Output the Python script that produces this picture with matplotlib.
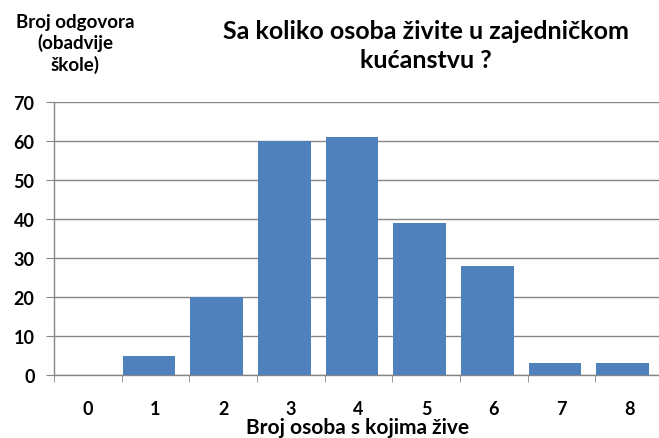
import matplotlib.pyplot as plt
import numpy as np

# broj osoba u kucanstvu i broj odgovora
categories = [0, 1, 2, 3, 4, 5, 6, 7, 8]
answers = [0, 5, 20, 60, 61, 39, 28, 3, 3]
y_ticks = [0, 10, 20, 30, 40, 50, 60, 70]

W, H = 659, 439
plt.rcParams['font.family'] = ['Lato', 'DejaVu Sans']

fig = plt.figure(figsize=(W / 100, H / 100), dpi=100)
ax = fig.add_axes([54 / W, (H - 376) / H, (663 - 54) / W, (376 - 103) / H])

grid_col = '#868686'
x = np.arange(len(categories))
ax.bar(x - 0.097, answers, width=0.777, color='#4F81BD', zorder=3)

ax.set_xlim(-0.5, len(categories) - 0.5)
ax.set_ylim(0, 70)
ax.set_yticks(y_ticks)
ax.set_yticklabels([str(v) for v in y_ticks], fontsize=13, fontweight='bold')
ax.set_xticks(x)
ax.set_xticklabels([str(c) for c in categories], fontsize=13, fontweight='bold')
ax.set_xticks(np.arange(-0.5, len(categories), 1.0), minor=True)
ax.tick_params(axis='x', which='major', length=0, pad=18)
ax.tick_params(axis='x', which='minor', length=5, color=grid_col, direction='out')
ax.tick_params(axis='y', length=6, color=grid_col, pad=8)

ax.yaxis.grid(True, color=grid_col, linewidth=1.0, zorder=0)
for s in ['top', 'right']:
    ax.spines[s].set_visible(False)
for s in ['left', 'bottom']:
    ax.spines[s].set_color(grid_col)
    ax.spines[s].set_linewidth(1.0)

fig.text(426 / W, 1 - 46 / H, 'Sa koliko osoba živite u zajedničkom\nkućanstvu ?',
         ha='center', va='center', fontsize=18, fontweight='bold', linespacing=1.32)
fig.text(75 / W, 1 - 44 / H, 'Broj odgovora\n(obadvije\nškole)',
         ha='center', va='center', fontsize=13.5, fontweight='bold', linespacing=1.22)
fig.text(358 / W, 1 - 428 / H, 'Broj osoba s kojima žive',
         ha='center', va='center', fontsize=15, fontweight='bold')

fig.savefig('out.png', dpi=100)
